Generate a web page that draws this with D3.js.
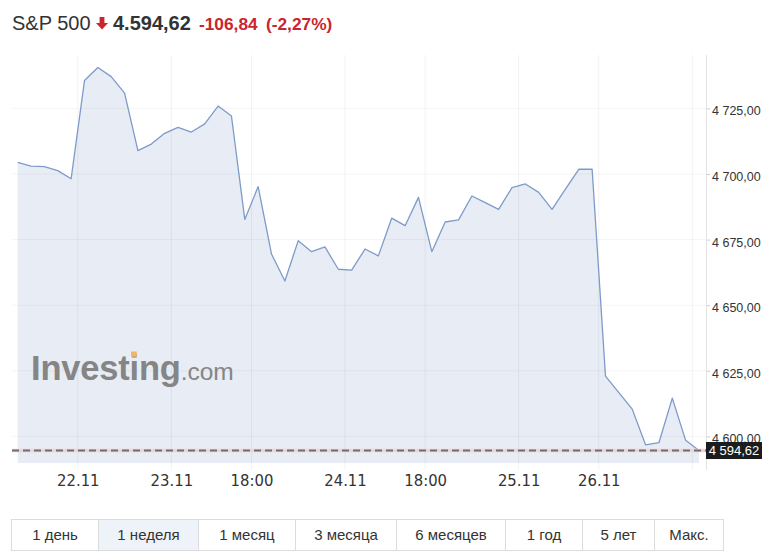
<!DOCTYPE html>
<html><head><meta charset="utf-8">
<script src="https://cdn.jsdelivr.net/npm/d3@7"></script>
<style>
html,body{margin:0;padding:0;background:#fff;}
svg{display:block;font-family:"Liberation Sans",Arial,sans-serif;}
</style></head>
<body>
<svg id="chart" width="781" height="556"></svg>
<script>
// ---- data ----
const title = "S&P 500";
const lastValue = 4594.62;
const change = -106.84;
const changePct = -2.27;
const values = [4704.4, 4703.0, 4702.8, 4701.3, 4698.2, 4735.6, 4740.6, 4737.1, 4730.8, 4708.9,
  4711.4, 4715.5, 4717.8, 4716.0, 4719.1, 4725.9, 4722.1, 4682.7, 4695.2, 4669.5,
  4659.2, 4674.6, 4670.4, 4672.2, 4663.7, 4663.4, 4671.4, 4668.8, 4683.2, 4680.3,
  4691.1, 4670.4, 4681.7, 4682.5, 4691.6, 4689.1, 4686.5, 4694.8, 4696.2, 4693.0,
  4686.5, 4694.2, 4701.8, 4701.8, 4623.0, 4616.7, 4610.4, 4596.8, 4597.6, 4614.6,
  4598.5, 4594.62];
const xTickIndex = [4.5, 11.5, 17.5, 24.5, 30.5, 37.5, 43.5, 50.5];
const xTickLabels = ["22.11", "23.11", "18:00", "24.11", "18:00", "25.11", "26.11", ""];
const yTicks = [4600, 4625, 4650, 4675, 4700, 4725];
const periods = ["1 день", "1 неделя", "1 месяц", "3 месяца", "6 месяцев", "1 год", "5 лет", "Макс."];
const activePeriod = 1;

// ---- layout ----
const plot = {left: 12, right: 706, top: 55, bottom: 463};
const svg = d3.select("#chart");

const x = d3.scaleLinear().domain([0, values.length - 1]).range([17.7, 699]);
const y = d3.scaleLinear().domain([4589.86, 4745.35]).range([plot.bottom, plot.top]);

const ruFmt = d3.formatLocale({decimal: ",", thousands: "\u00a0", grouping: [3]}).format(",.2f");
const hdrFmt = d3.formatLocale({decimal: ",", thousands: ".", grouping: [3], minus: "-"}).format(",.2f");
const redC = "#c9252c";

// ---- header ----
const hdr = svg.append("g");
hdr.append("text").attr("x", 12).attr("y", 30).attr("font-size", 20).attr("fill", "#333").text(title);
hdr.append("path").attr("d", "M99.6,17 h4.8 v6 h3.6 l-6,6.6 l-6,-6.6 h3.6 z").attr("fill", redC);
hdr.append("text").attr("x", 113).attr("y", 30).attr("font-size", 20).attr("font-weight", "bold")
  .attr("fill", "#333").text(hdrFmt(lastValue));
hdr.append("text").attr("x", 199).attr("y", 30).attr("font-size", 17.3).attr("font-weight", "bold")
  .attr("fill", redC).text(hdrFmt(change));
hdr.append("text").attr("x", 266).attr("y", 30).attr("font-size", 17.3).attr("font-weight", "bold")
  .attr("fill", redC).text("(" + hdrFmt(changePct) + "%)");

// ---- area ----
const area = d3.area().x((d, i) => x(i)).y0(plot.bottom).y1(d => y(d));
const line = d3.line().x((d, i) => x(i)).y(d => y(d));
svg.append("path").datum(values).attr("d", area).attr("fill", "#e8ecf5");

// gridlines
const grid = svg.append("g");
grid.selectAll("line.h").data(yTicks).join("line").attr("class", "h")
  .attr("x1", plot.left).attr("x2", plot.right).attr("y1", d => y(d)).attr("y2", d => y(d))
  .attr("stroke", "#000").attr("stroke-opacity", 0.045);
grid.selectAll("line.v").data(xTickIndex).join("line").attr("class", "v")
  .attr("x1", d => x(d)).attr("x2", d => x(d)).attr("y1", plot.top).attr("y2", 470)
  .attr("stroke", "#000").attr("stroke-opacity", 0.05);

// watermark
const wm = svg.append("g");
const wmText = wm.append("text").attr("x", 31).attr("y", 379.5).attr("font-size", 34.5)
  .attr("font-weight", "bold").attr("fill", "#858585").attr("letter-spacing", -0.2);
wmText.append("tspan").text("Investing");
wmText.append("tspan").attr("font-size", 24.5).attr("font-weight", "normal").attr("letter-spacing", 0).text(".com");

// line
svg.append("path").datum(values).attr("d", line).attr("fill", "none")
  .attr("stroke", "#7d9bc9").attr("stroke-width", 1.3).attr("stroke-linejoin", "round");

// right axis
const yAxis = d3.axisRight(y).tickValues(yTicks).tickSize(4).tickPadding(2).tickFormat(ruFmt);
const ya = svg.append("g").attr("transform", `translate(${plot.right},0)`).call(yAxis);
ya.select(".domain").remove();
ya.selectAll(".tick line").attr("stroke", "#ccc");
ya.selectAll(".tick text").attr("font-size", 12.5).attr("fill", "#333")
  .attr("font-family", "'Liberation Sans',Arial,sans-serif").attr("dy", 6.5);
svg.append("line").attr("x1", plot.right + 0.5).attr("x2", plot.right + 0.5)
  .attr("y1", plot.top).attr("y2", 470).attr("stroke", "#e3e3e3");

// x axis
const xAxis = d3.axisBottom(x).tickValues(xTickIndex).tickSize(0).tickPadding(0)
  .tickFormat((d, i) => xTickLabels[i]);
const xa = svg.append("g").attr("transform", `translate(0,${plot.bottom})`).call(xAxis);
xa.select(".domain").remove();
xa.selectAll(".tick text").attr("font-size", 16.5).attr("fill", "#333")
  .attr("font-family", "'Liberation Sans Narrow','Arial Narrow','DejaVu Sans Condensed',sans-serif")
  .attr("dy", 0).attr("y", 22.5);

// last value line
const yl = y(lastValue);
svg.append("line").attr("x1", plot.left).attr("x2", plot.right).attr("y1", yl).attr("y2", yl)
  .attr("stroke", "#e8d6da").attr("stroke-width", 3.5);
svg.append("line").attr("x1", plot.left).attr("x2", plot.right).attr("y1", yl).attr("y2", yl)
  .attr("stroke", "#7b6a6c").attr("stroke-width", 1.8).attr("stroke-dasharray", "7,4");
svg.append("rect").attr("x", plot.right).attr("y", yl - 8.5).attr("width", 56).attr("height", 17)
  .attr("fill", "#1c1c1c");
svg.append("text").attr("x", plot.right + 28).attr("y", yl + 4.6).attr("text-anchor", "middle")
  .attr("font-size", 13).attr("fill", "#fff").text(ruFmt(lastValue));

// orange dot on watermark i
try {
  const n = wmText.node();
  const ext = n.getExtentOfChar(6);
  const cx = ext.x + ext.width / 2 - 0.3;
  wm.append("rect").attr("x", cx - 2.9).attr("y", 351.5).attr("width", 5.8).attr("height", 5.2)
    .attr("fill", "#ecb867");
} catch (e) {}

// ---- period buttons ----
const edges = [11, 98, 198, 295, 396, 505, 582, 654, 723];
const btnTop = 519, btnH = 31;
const bg = svg.append("g");
bg.selectAll("rect").data(periods).join("rect")
  .attr("x", (d, i) => edges[i] + 0.5).attr("y", btnTop + 0.5)
  .attr("width", (d, i) => edges[i + 1] - edges[i]).attr("height", btnH)
  .attr("fill", (d, i) => i === activePeriod ? "#eef2f9" : "#fff")
  .attr("stroke", "#dcdcdc");
bg.selectAll("text").data(periods).join("text")
  .attr("x", (d, i) => (edges[i] + edges[i + 1]) / 2 + 0.5).attr("y", btnTop + 21)
  .attr("text-anchor", "middle").attr("font-size", 15).attr("fill", "#333")
  .attr("font-family", "'Liberation Sans Narrow','Arial Narrow','Liberation Sans',sans-serif")
  .text(d => d);
</script>
</body></html>
